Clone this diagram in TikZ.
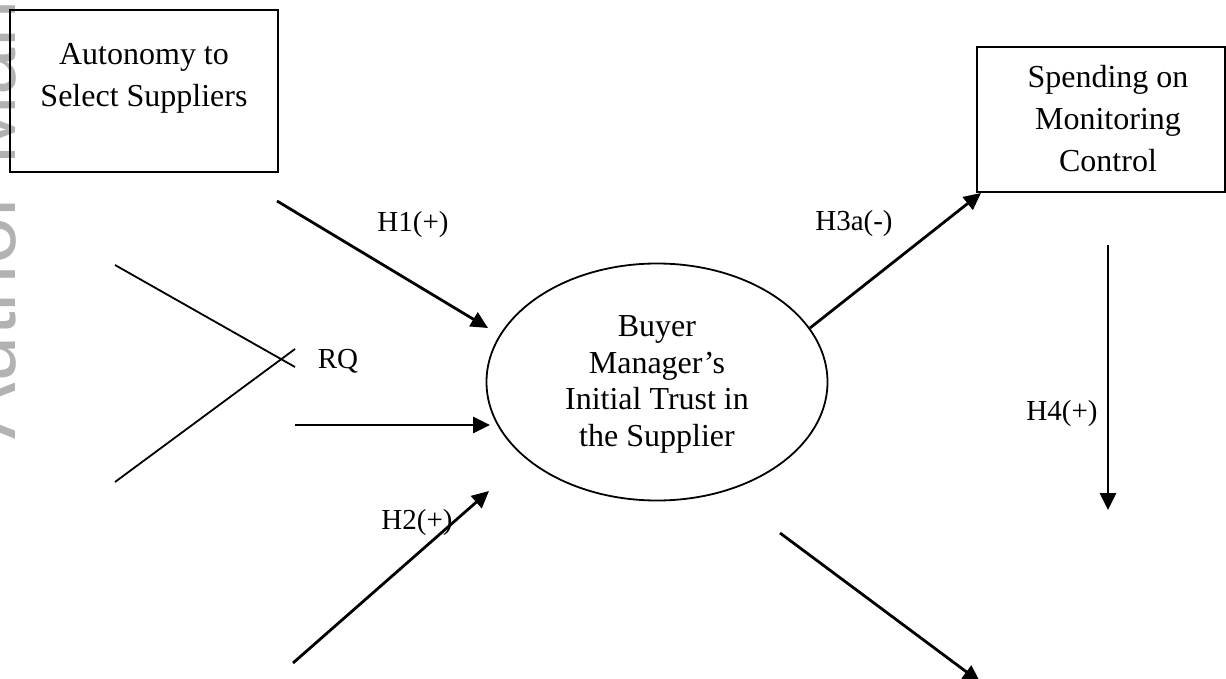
\documentclass[tikz,border=0pt]{standalone}
\usepackage{fontspec}
\setmainfont{Liberation Serif}
\newfontfamily\wmfont{Liberation Sans}
\usetikzlibrary{arrows.meta,shapes.geometric}
\definecolor{wmgray}{RGB}{178,178,178}
\begin{document}
\begin{tikzpicture}[x=1pt,y=-1pt,
  box/.style={draw, line width=1.9pt, inner sep=0pt},
  txt/.style={font=\fontsize{32}{42}\selectfont, align=center, inner sep=0pt, anchor=base},
  lbl/.style={font=\fontsize{29}{34}\selectfont, inner sep=0pt, anchor=base},
  arr/.style={line width=2.8pt, -{Triangle[length=17pt,width=16pt]}},
  plainline/.style={line width=1.8pt}]
\useasboundingbox (0,0) rectangle (1226,679);
\fill[white] (0,0) rectangle (1226,679);
% watermark
\node[font=\wmfont\fontsize{85}{85}\selectfont, text=wmgray, rotate=90,
      anchor=base west, inner sep=0pt] (wm) at (15,440) {Author Manuscript};
% boxes
\node[box, minimum width=268pt, minimum height=162pt] (auto) at (144,91) {};
\node[txt] (autotext) at (144,107) {Autonomy to\\Select Suppliers};
\node[box, minimum width=248pt, minimum height=145pt] (spend) at (1101,119.5) {};
\node[txt] (spendtext) at (1108,172) {Spending on\\Monitoring\\Control};
% ellipse
\node[draw, ellipse, line width=1.8pt, minimum width=341pt, minimum height=237pt,
      inner sep=0pt] (trust) at (657,382) {};
\node[txt, font=\fontsize{32}{36.5}\selectfont] (trusttext) at (657,446)
  {Buyer\\Manager’s\\Initial Trust in\\the Supplier};
% coordinates
\coordinate (h1s) at (277,201); \coordinate (h1e) at (488,328);
\coordinate (x1s) at (115,265); \coordinate (x1e) at (295,367);
\coordinate (x2s) at (115,482); \coordinate (x2e) at (295,349);
\coordinate (rqs) at (295,425); \coordinate (rqe) at (490,425);
\coordinate (h2s) at (293,663); \coordinate (h2e) at (489,491);
\coordinate (h3s) at (810,328); \coordinate (h3e) at (981,193);
\coordinate (h4s) at (1108,245); \coordinate (h4e) at (1108,510);
\coordinate (h5s) at (780,533); \coordinate (h5e) at (980,682);
% connectors
\draw[arr] (h1s) -- (h1e);
\draw[plainline] (x1s) -- (x1e);
\draw[plainline] (x2s) -- (x2e);
\draw[arr] (rqs) -- (rqe);
\draw[arr] (h2s) -- (h2e);
\draw[arr] (h3s) -- (h3e);
\draw[arr] (h4s) -- (h4e);
\draw[arr] (h5s) -- (h5e);
% labels
\node[lbl] (lh1) at (413,232) {H1(+)};
\node[lbl] (lrq) at (338,368) {RQ};
\node[lbl] (lh2) at (417,529) {H2(+)};
\node[lbl] (lh3) at (854,230) {H3a(-)};
\node[lbl] (lh4) at (1062,420) {H4(+)};
\end{tikzpicture}
\end{document}
